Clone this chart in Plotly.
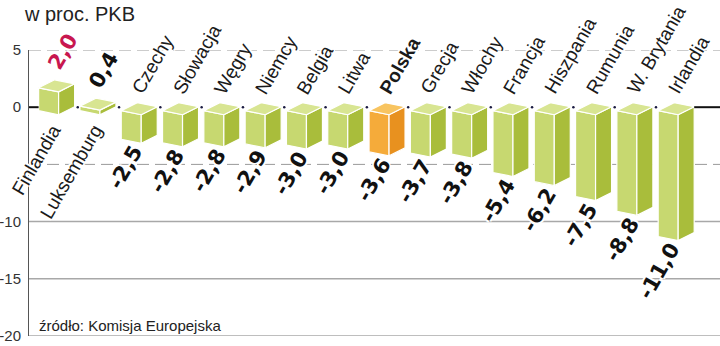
import plotly.graph_objects as go

# Budget balance, % of GDP
countries = ["Finlandia", "Luksemburg", "Czechy", "Słowacja", "Węgry", "Niemcy",
             "Belgia", "Litwa", "Polska", "Grecja", "Włochy", "Francja",
             "Hiszpania", "Rumunia", "W. Brytania", "Irlandia"]
balance = [2.0, 0.4, -2.5, -2.8, -2.8, -2.9, -3.0, -3.0, -3.6, -3.7, -3.8,
           -5.4, -6.2, -7.5, -8.8, -11.0]
highlight = "Polska"
y_tick_values = [5, 0, -10, -15, -20]
y_tick_labels = ["5", "0", "-10", "-15", "-20"]
dashed_grid = [5, -5]
solid_grid = [-10, -15, -20]

# 3D box geometry: x offsets in category units, y offsets in value units
XL, XT, XF, XR = -0.447, -0.059, 0.0375, 0.425
DL, DT, DF, DR = -0.306, 0.394, -0.657, 0.044

GREEN = dict(front="#c7d870", side="#a9bd3b", top="#d8e592")
ORANGE = dict(front="#f5ab3a", side="#e8911f", top="#f8c460")

X_RANGE = [-0.68, 16.05]
Y_RANGE = [-20, 5]

LABEL_FONT = "Liberation Sans, Arial, sans-serif"
VALUE_FONT = "DejaVu Sans, sans-serif"
HALO = "2px 0px 0px white, -2px 0px 0px white, 0px 2px 0px white, 0px -2px 0px white"


def fmt(v):
    return f"{v:.1f}".replace(".", ",")


fig = go.Figure()


def face(xs, ys, color):
    fig.add_trace(go.Scatter(
        x=xs + xs[:1], y=ys + ys[:1], mode="lines", fill="toself",
        fillcolor=color, line=dict(color="white", width=1.2),
        hoverinfo="skip", showlegend=False))


for i, (name, v) in enumerate(zip(countries, balance)):
    pal = ORANGE if name == highlight else GREEN
    hi, lo = max(v, 0.0), min(v, 0.0)
    face([i + XL, i + XF, i + XF, i + XL],
         [hi + DL, hi + DF, lo + DF, lo + DL], pal["front"])
    face([i + XF, i + XR, i + XR, i + XF],
         [hi + DF, hi + DR, lo + DR, lo + DF], pal["side"])
    face([i + XL, i + XT, i + XR, i + XF],
         [hi + DL, hi + DT, hi + DR, hi + DF], pal["top"])

# zero line: outer segments plus marks between boxes
n = len(countries)
fig.add_trace(go.Scatter(
    x=[X_RANGE[0], XL, None, (n - 1) + XR, X_RANGE[1]],
    y=[0, 0, None, 0, 0], mode="lines",
    line=dict(color="#111111", width=2), hoverinfo="skip", showlegend=False))
fig.add_trace(go.Scatter(
    x=[i + 0.5 for i in range(n - 1)], y=[0] * (n - 1), mode="markers",
    marker=dict(color="#1a1a40", size=2.5), hoverinfo="skip", showlegend=False))

annotations = []
for i, (name, v) in enumerate(zip(countries, balance)):
    bold_name = name == highlight
    name_text = f"<b>{name}</b>" if bold_name else name
    value_color = "#c8174f" if i == 0 else "#111111"
    if v >= 0:
        annotations.append(dict(
            x=i, y=v, xref="x", yref="y", text=fmt(v), textangle=-60,
            xanchor="left", yanchor="bottom", xshift=-17, yshift=8,
            showarrow=False,
            font=dict(family=VALUE_FONT, size=21, color=value_color,
                      weight="bold", shadow=HALO)))
        annotations.append(dict(
            x=i, y=0, xref="x", yref="y", text=name_text, textangle=-60,
            xanchor="right", yanchor="top", xshift=11, yshift=-11,
            showarrow=False,
            font=dict(family=LABEL_FONT, size=19, color="#1a1a1a", shadow=HALO)))
    else:
        annotations.append(dict(
            x=i, y=0, xref="x", yref="y", text=name_text, textangle=-60,
            xanchor="left", yanchor="bottom", xshift=-15, yshift=7,
            showarrow=False,
            font=dict(family=LABEL_FONT, size=19, color="#1a1a1a", shadow=HALO)))
        annotations.append(dict(
            x=i, y=v, xref="x", yref="y", text=fmt(v), textangle=-60,
            xanchor="right", yanchor="top", xshift=11, yshift=-3,
            showarrow=False,
            font=dict(family=VALUE_FONT, size=21, color=value_color,
                      weight="bold", shadow=HALO)))

annotations.append(dict(
    x=0.012, y=0.0, xref="paper", yref="paper", xanchor="left", yanchor="bottom",
    text="źródło: Komisja Europejska", showarrow=False,
    font=dict(family=LABEL_FONT, size=15, color="#222222")))

shapes = []
for g in dashed_grid:
    shapes.append(dict(type="line", xref="paper", yref="y", x0=0, x1=1, y0=g, y1=g,
                       line=dict(color="#9a9a9a", width=1, dash="12px,6px"),
                       layer="below"))
for g in solid_grid:
    shapes.append(dict(type="line", xref="paper", yref="y", x0=0, x1=1, y0=g, y1=g,
                       line=dict(color="#a8a8a8", width=1.5), layer="below"))

fig.update_layout(
    width=720, height=346,
    margin=dict(l=29, r=0, t=50, b=10),
    paper_bgcolor="white", plot_bgcolor="white",
    title=dict(text="w proc. PKB", x=25 / 720, xanchor="left", xref="container",
               y=1 - 14 / 346, yanchor="middle", yref="container",
               font=dict(family=LABEL_FONT, size=20, color="#222222")),
    xaxis=dict(range=X_RANGE, visible=False, fixedrange=True),
    yaxis=dict(range=Y_RANGE, tickvals=y_tick_values, ticktext=y_tick_labels,
               showgrid=False, zeroline=False, showline=True, linecolor="#555555",
               linewidth=1, ticks="", ticklabelstandoff=4,
               tickfont=dict(family=LABEL_FONT, size=15, color="#333333")),
    annotations=annotations,
    shapes=shapes,
    showlegend=False,
)

fig.write_html("out.html")
